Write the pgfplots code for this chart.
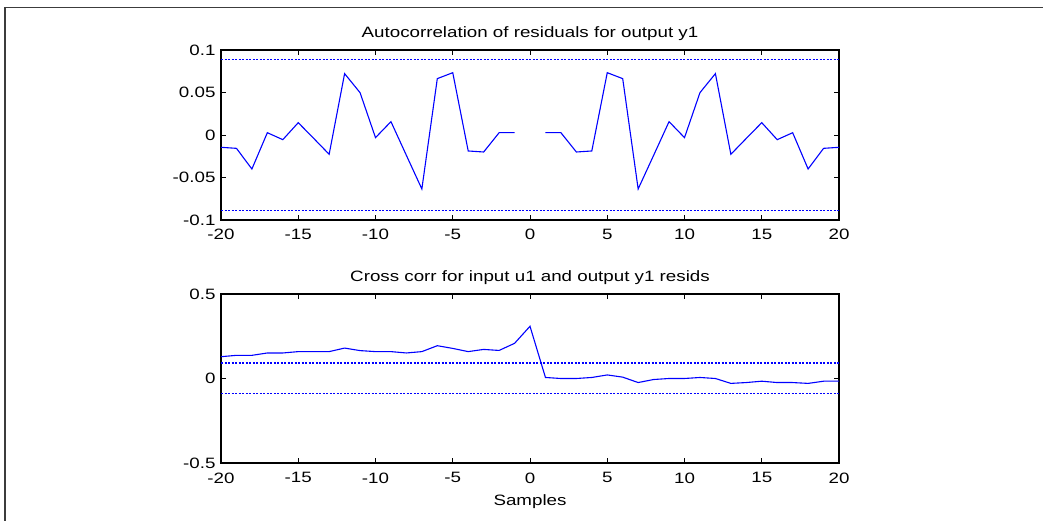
\documentclass[border=0pt]{standalone}
\usepackage{pgfplots}
\pgfplotsset{compat=1.18}
\usepackage{fontspec}
\setmainfont[FakeStretch=1.25]{Liberation Sans}
\definecolor{mblue}{RGB}{0,0,255}
\definecolor{frame}{RGB}{60,60,60}
\pgfplotsset{
  every axis title shift=0pt,
  mystyle/.style={
    scale only axis,
    width=618pt,
    xmin=-20, xmax=20,
    xtick={-20,-15,-10,-5,0,5,10,15,20},
    xticklabels={-20,-15,-10,-5,0,5,10,15,20},
    tick align=inside,
    major tick length=5pt,
    axis line style={line width=1.2pt},
    every tick/.style={black, line width=0.9pt},
    /pgf/number format/assume math mode=true,
    tick label style={font=\fontsize{15}{17}\selectfont},
    xticklabel style={yshift=-6pt},
    yticklabel style={xshift=-2pt},
    title style={font=\fontsize{15}{17}\selectfont, at={(0.5,1)}, anchor=base, yshift=12pt},
    label style={font=\fontsize{15}{17}\selectfont},
    unbounded coords=jump,
  },
  dataline/.style={mblue, line width=1.1pt},
  confline/.style={mblue, line width=1.2pt, dash pattern=on 2pt off 1.5pt},
}
\begin{document}
\begin{tikzpicture}
\useasboundingbox (0pt,0pt) rectangle (1043pt,521pt);
\draw[frame, line width=1.4pt] (5pt,0pt) -- (5pt,513.5pt) -- (1043pt,513.5pt);

\begin{axis}[mystyle,
  at={(221pt,301pt)}, anchor=south west,
  height=170pt,
  ymin=-0.1, ymax=0.1,
  ytick={-0.1,-0.05,0,0.05,0.1},
  yticklabels={-0.1,-0.05,0,0.05,0.1},
  title={Autocorrelation of residuals for output y1},
]
\addplot[confline] coordinates {(-20,0.089) (20,0.089)};
\addplot[confline] coordinates {(-20,-0.089) (20,-0.089)};
\addplot[dataline] coordinates {
(-20,-0.0145) (-19,-0.0157) (-18,-0.040) (-17,0.0027) (-16,-0.0055)
(-15,0.0145) (-14,-0.004) (-13,-0.0227) (-12,0.0722) (-11,0.0498)
(-10,-0.0031) (-9,0.0157) (-8,-0.024) (-7,-0.0635) (-6,0.0663)
(-5,0.0733) (-4,-0.0188) (-3,-0.020) (-2,0.0027) (-1,0.0027)
(0,nan)
(1,0.0027) (2,0.0027) (3,-0.020) (4,-0.0188) (5,0.0733)
(6,0.0663) (7,-0.0635) (8,-0.024) (9,0.0157) (10,-0.0031)
(11,0.0498) (12,0.0722) (13,-0.0227) (14,-0.004) (15,0.0145)
(16,-0.0055) (17,0.0027) (18,-0.040) (19,-0.0157) (20,-0.0145)
};
\end{axis}

\begin{axis}[mystyle,
  at={(221pt,58pt)}, anchor=south west,
  height=169pt,
  ymin=-0.5, ymax=0.5,
  ytick={-0.5,0,0.5},
  yticklabels={-0.5,0,0.5},
  title={Cross corr for input u1 and output y1 resids},
  xlabel={Samples},
  xlabel style={at={(0.5,0)}, anchor=base, yshift=-43pt},
]
\addplot[confline] coordinates {(-20,0.092) (20,0.092)};
\addplot[confline] coordinates {(-20,-0.088) (20,-0.088)};
\addplot[dataline] coordinates {
(-20,0.129) (-19,0.137) (-18,0.137) (-17,0.151) (-16,0.151)
(-15,0.159) (-14,0.159) (-13,0.159) (-12,0.180) (-11,0.165)
(-10,0.159) (-9,0.159) (-8,0.151) (-7,0.159) (-6,0.194)
(-5,0.178) (-4,0.159) (-3,0.172) (-2,0.166) (-1,0.208)
(0,0.309)
(1,0.006) (2,0.0) (3,0.0) (4,0.006) (5,0.021)
(6,0.008) (7,-0.024) (8,-0.006) (9,0.0) (10,0.0)
(11,0.006) (12,0.0) (13,-0.029) (14,-0.024) (15,-0.016)
(16,-0.024) (17,-0.024) (18,-0.029) (19,-0.016) (20,-0.016)
};
\end{axis}
\end{tikzpicture}
\end{document}
